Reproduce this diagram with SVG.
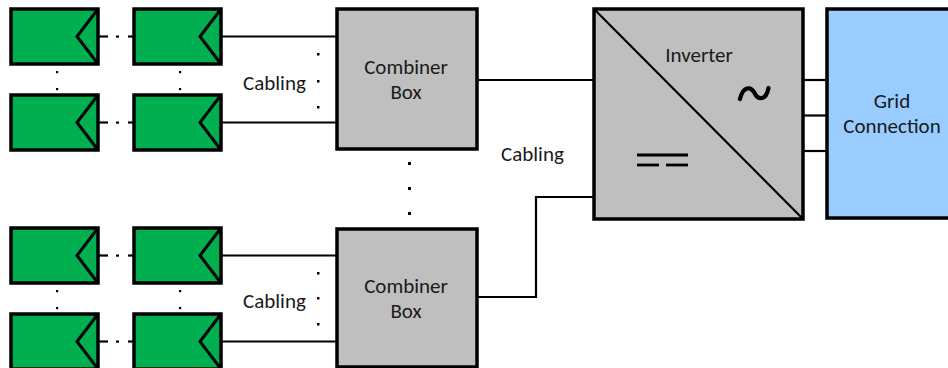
<svg xmlns="http://www.w3.org/2000/svg" width="948" height="368" viewBox="0 0 948 368">
<defs>
<style>
.pv{fill:#00B050;stroke:#000;stroke-width:3.5;stroke-linejoin:miter}
.tri{fill:none;stroke:#000;stroke-width:3}
.box{fill:#BFBFBF;stroke:#000;stroke-width:3.5}
.grid{fill:#99CCFF;stroke:#000;stroke-width:3.5}
.ln{fill:none;stroke:#000;stroke-width:2.2}
.dot{fill:#000}
.t{font-family:Carlito,"Liberation Sans",Arial,sans-serif;font-size:21px;fill:#1a1a1a}
</style>
<g id="panel">
<rect class="pv" x="0" y="0" width="87" height="55"/>
<polyline class="tri" points="87,0 66,27.5 87,55"/>
</g>
</defs>
<g id="connectors">
<g id="chains">
<line class="ln" x1="98" y1="36.5" x2="108" y2="36.5"/><rect class="dot" x="116" y="35.5" width="3" height="2.2"/><line class="ln" x1="128" y1="36.5" x2="134" y2="36.5"/>
<line class="ln" x1="98" y1="122.5" x2="108" y2="122.5"/><rect class="dot" x="116" y="121.5" width="3" height="2.2"/><line class="ln" x1="128" y1="122.5" x2="134" y2="122.5"/>
<line class="ln" x1="98" y1="255.5" x2="108" y2="255.5"/><rect class="dot" x="116" y="254.5" width="3" height="2.2"/><line class="ln" x1="128" y1="255.5" x2="134" y2="255.5"/>
<line class="ln" x1="98" y1="341.5" x2="108" y2="341.5"/><rect class="dot" x="116" y="340.5" width="3" height="2.2"/><line class="ln" x1="128" y1="341.5" x2="134" y2="341.5"/>
</g>
<line class="ln" x1="221" y1="36.5" x2="337" y2="36.5"/>
<line class="ln" x1="221" y1="122.5" x2="337" y2="122.5"/>
<line class="ln" x1="221" y1="255.5" x2="337" y2="255.5"/>
<line class="ln" x1="221" y1="341.5" x2="337" y2="341.5"/>
<line class="ln" x1="477" y1="80" x2="594" y2="80"/>
<polyline class="ln" points="477,297 536,297 536,197 594,197"/>
<line class="ln" x1="803" y1="80" x2="827" y2="80"/>
<line class="ln" x1="803" y1="115.5" x2="827" y2="115.5"/>
<line class="ln" x1="803" y1="151" x2="827" y2="151"/>
</g>
<g id="dots">
<rect class="dot" x="56" y="71" width="2.2" height="2.2"/><rect class="dot" x="56" y="88" width="2.2" height="2.2"/>
<rect class="dot" x="179" y="71" width="2.2" height="2.2"/><rect class="dot" x="179" y="88" width="2.2" height="2.2"/>
<rect class="dot" x="56" y="290" width="2.2" height="2.2"/><rect class="dot" x="56" y="307" width="2.2" height="2.2"/>
<rect class="dot" x="179" y="290" width="2.2" height="2.2"/><rect class="dot" x="179" y="307" width="2.2" height="2.2"/>
<rect class="dot" x="317" y="53" width="2.5" height="2.5"/><rect class="dot" x="317" y="80" width="2.5" height="2.5"/><rect class="dot" x="317" y="106" width="2.5" height="2.5"/>
<rect class="dot" x="317" y="272" width="2.5" height="2.5"/><rect class="dot" x="317" y="297" width="2.5" height="2.5"/><rect class="dot" x="317" y="323" width="2.5" height="2.5"/>
<rect class="dot" x="408" y="162" width="3" height="3"/><rect class="dot" x="408" y="187" width="3" height="3"/><rect class="dot" x="408" y="212" width="3" height="3"/>
</g>
<g id="panels">
<use href="#panel" x="11" y="9"/><use href="#panel" x="134" y="9"/>
<use href="#panel" x="11" y="95"/><use href="#panel" x="134" y="95"/>
<use href="#panel" x="11" y="228"/><use href="#panel" x="134" y="228"/>
<use href="#panel" x="11" y="314"/><use href="#panel" x="134" y="314"/>
</g>
<g id="cabling-labels">
<text class="t" x="243" y="90">Cabling</text>
<text class="t" x="243" y="308">Cabling</text>
<text class="t" x="501" y="161">Cabling</text>
</g>
<g id="combiner1">
<rect class="box" x="337" y="9" width="140" height="140"/>
<text class="t" x="406" y="74" text-anchor="middle">Combiner</text>
<text class="t" x="406" y="99" text-anchor="middle">Box</text>
</g>
<g id="combiner2">
<rect class="box" x="337" y="229" width="140" height="138"/>
<text class="t" x="406" y="293" text-anchor="middle">Combiner</text>
<text class="t" x="406" y="318" text-anchor="middle">Box</text>
</g>
<g id="inverter">
<rect class="box" x="594" y="9" width="209" height="210"/>
<line class="ln" x1="594" y1="9" x2="803" y2="219"/>
<text class="t" x="699" y="62" text-anchor="middle">Inverter</text>
<path d="M740,99 C743,86 751,86 754.5,93 C758,100 766,101 768.5,88" fill="none" stroke="#000" stroke-width="4.2" stroke-linecap="round"/>
<line x1="637" y1="155" x2="688" y2="155" stroke="#000" stroke-width="2.8"/>
<line x1="637" y1="165" x2="659" y2="165" stroke="#000" stroke-width="2.8"/>
<line x1="666" y1="165" x2="688" y2="165" stroke="#000" stroke-width="2.8"/>
</g>
<g id="grid">
<rect class="grid" x="827" y="9" width="130" height="209"/>
<text class="t" x="892" y="108" text-anchor="middle">Grid</text>
<text class="t" x="892" y="133" text-anchor="middle">Connection</text>
</g>
</svg>
